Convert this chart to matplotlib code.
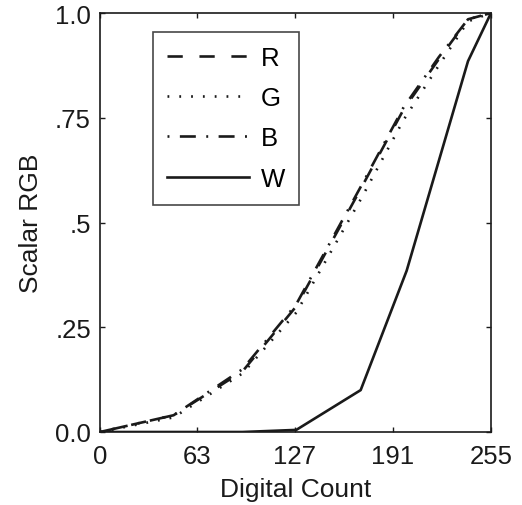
import matplotlib
matplotlib.use('Agg')
import matplotlib.pyplot as plt

# digital count vs scalar RGB
counts = [0, 48, 93, 128, 170, 198, 221, 240, 255]
r_vals = [0, 0.040, 0.145, 0.300, 0.580, 0.770, 0.890, 0.985, 1.0]
g_vals = [0, 0.035, 0.140, 0.285, 0.555, 0.745, 0.875, 0.980, 1.0]
b_vals = [0, 0.040, 0.150, 0.305, 0.585, 0.775, 0.895, 0.985, 1.0]

w_counts = [0, 93, 128, 170, 200, 240, 255]
w_vals = [0, 0, 0.005, 0.100, 0.385, 0.885, 1.0]

x_ticks = [0, 63, 127, 191, 255]
x_labels = ['0', '63', '127', '191', '255']
y_ticks = [0, 0.25, 0.5, 0.75, 1.0]
y_labels = ['0.0', '.25', '.5', '.75', '1.0']

plt.rcParams['font.family'] = ['Liberation Sans', 'DejaVu Sans']
plt.rcParams['lines.scale_dashes'] = False

ink = '#1a1a1a'
fs = 18.5
lw = 1.9

fig = plt.figure(figsize=(5.22, 5.06), dpi=100)
ax = fig.add_axes([100 / 522, 73 / 506, 391 / 522, 419 / 506])

ax.plot(counts, r_vals, color=ink, lw=lw, linestyle=(0, (11, 12)), label='R')
ax.plot(counts, g_vals, color=ink, lw=lw, linestyle=(0, (1.3, 7.2)), label='G')
ax.plot(counts, b_vals, color=ink, lw=lw, linestyle=(0, (1.4, 7.5, 11.5, 7.5)), label='B')
ax.plot(w_counts, w_vals, color=ink, lw=lw, linestyle='-', label='W')

ax.set_xlim(0, 255)
ax.set_ylim(0, 1.0)
ax.set_xticks(x_ticks)
ax.set_xticklabels(x_labels)
ax.set_yticks(y_ticks)
ax.set_yticklabels(y_labels)
ax.tick_params(direction='in', top=True, right=True, length=3.5, width=1.0,
               labelsize=fs, colors=ink)
ax.tick_params(axis='x', pad=9)
ax.tick_params(axis='y', pad=6.5)
for s in ax.spines.values():
    s.set_linewidth(1.2)
    s.set_color(ink)

ax.set_xlabel('Digital Count', fontsize=19, color=ink, labelpad=6)
ax.set_ylabel('Scalar RGB', fontsize=19, color=ink, labelpad=9)

leg = ax.legend(loc='upper left', bbox_to_anchor=(0.1355, 0.9547),
                fontsize=fs, handlelength=3.2, handletextpad=0.45,
                labelspacing=0.63, borderpad=0.55, borderaxespad=0,
                fancybox=False, frameon=True)
leg.get_frame().set_edgecolor(ink)
leg.get_frame().set_linewidth(1.2)

fig.savefig('out.png', dpi=100)
